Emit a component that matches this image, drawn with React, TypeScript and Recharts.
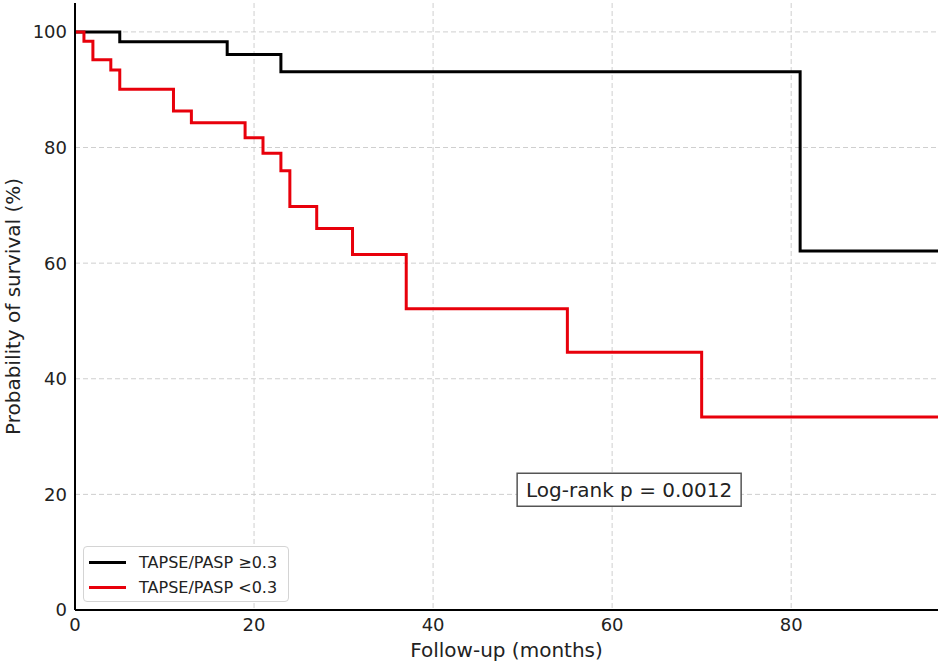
import React from 'react';
import {
  LineChart,
  Line,
  XAxis,
  YAxis,
  CartesianGrid,
  Legend,
  ReferenceDot,
  Label,
} from 'recharts';

// follow-up in months, survival in %
const highTimes = [0, 5, 17, 23, 81, 96.4];
const highSurvival = [100, 98.3, 96.1, 93.1, 62.1, 62.1];

const lowTimes = [0, 1, 2, 4, 5, 11, 13, 19, 21, 23, 24, 27, 31, 37, 55, 70, 96.4];
const lowSurvival = [100, 98.4, 95.2, 93.4, 90.1, 86.3, 84.3, 81.7, 79.0, 76.0, 69.8, 66.0, 61.5, 52.1, 44.6, 33.4, 33.4];

const xTicks = [0, 20, 40, 60, 80];
const yTicks = [0, 20, 40, 60, 80, 100];

const seriesNames = ['TAPSE/PASP \u22650.3', 'TAPSE/PASP <0.3'];
const seriesColors = ['#000000', '#e8000b'];

const pValueText = 'Log-rank p = 0.0012';
const pValueAt = { x: 61.9, y: 20.8 };

const highData = highTimes.map((t, i) => ({ t, s: highSurvival[i] }));
const lowData = lowTimes.map((t, i) => ({ t, s: lowSurvival[i] }));

const FONT = '"DejaVu Sans", sans-serif';

const LegendBox = () => (
  <div
    style={{
      border: '1px solid #d4d4d4',
      borderRadius: 4,
      background: '#fff',
      width: 204,
      height: 54,
      boxSizing: 'content-box',
      fontFamily: FONT,
      fontSize: 16,
      color: '#222',
    }}
  >
    {seriesNames.map((name, i) => (
      <div key={name} style={{ display: 'flex', alignItems: 'center', height: 25, marginTop: i === 0 ? 3 : 0 }}>
        <div style={{ width: 37, height: 3, background: seriesColors[i], marginLeft: 5, marginRight: 13 }} />
        <span>{name}</span>
      </div>
    ))}
  </div>
);

const PValueBox = (props: any) => {
  const { cx, cy } = props;
  const w = 224;
  const h = 33;
  return (
    <g>
      <rect x={cx - w / 2} y={cy - h / 2} width={w} height={h} fill="#fff" stroke="#555" strokeWidth={1.5} />
      <text x={cx} y={cy} textAnchor="middle" dominantBaseline="central" fontFamily={FONT} fontSize={20} fill="#222">
        {pValueText}
      </text>
    </g>
  );
};

const YTitle = (props: any) => {
  const vb = props.viewBox || { x: 0, y: 3, width: 75, height: 607 };
  const x = vb.x + 13;
  const y = vb.y + vb.height / 2;
  return (
    <text x={x} y={y} transform={`rotate(-90, ${x}, ${y})`} textAnchor="middle" dominantBaseline="central" fontFamily={FONT} fontSize={20} fill="#222">
      Probability of survival (%)
    </text>
  );
};

export default function App() {
  return (
    <div style={{ position: 'absolute', left: 0, top: 0, width: 944, height: 667, background: '#fff' }}>
      <LineChart width={944} height={667} margin={{ top: 3, right: 6, left: 0, bottom: 0 }}>
        <CartesianGrid stroke="#cfcfcf" strokeDasharray="5 3" syncWithTicks />
        <XAxis
          type="number"
          dataKey="t"
          domain={[0, 96.4]}
          ticks={xTicks}
          allowDataOverflow
          height={57}
          tickLine={false}
          axisLine={{ stroke: '#000', strokeWidth: 2 }}
          tick={{ fontFamily: FONT, fontSize: 18, fill: '#222' }}
        >
          <Label value="Follow-up (months)" position="insideBottom" offset={10} style={{ fontFamily: FONT, fontSize: 20, fill: '#222' }} />
        </XAxis>
        <YAxis
          type="number"
          dataKey="s"
          domain={[0, 105]}
          ticks={yTicks}
          allowDataOverflow
          width={75}
          tickLine={false}
          axisLine={{ stroke: '#000', strokeWidth: 2 }}
          tick={{ fontFamily: FONT, fontSize: 18, fill: '#222' }}
        >
          <Label content={YTitle} />
        </YAxis>
        <Line
          data={highData}
          dataKey="s"
          name={seriesNames[0]}
          type="stepAfter"
          stroke={seriesColors[0]}
          strokeWidth={3}
          dot={false}
          isAnimationActive={false}
        />
        <Line
          data={lowData}
          dataKey="s"
          name={seriesNames[1]}
          type="stepAfter"
          stroke={seriesColors[1]}
          strokeWidth={3}
          dot={false}
          isAnimationActive={false}
        />
        <ReferenceDot x={pValueAt.x} y={pValueAt.y} shape={PValueBox} />
        <Legend
          content={LegendBox}
          layout="horizontal"
          verticalAlign="middle"
          align="center"
          wrapperStyle={{ left: 83, top: 546, width: 'auto' }}
        />
      </LineChart>
    </div>
  );
}
